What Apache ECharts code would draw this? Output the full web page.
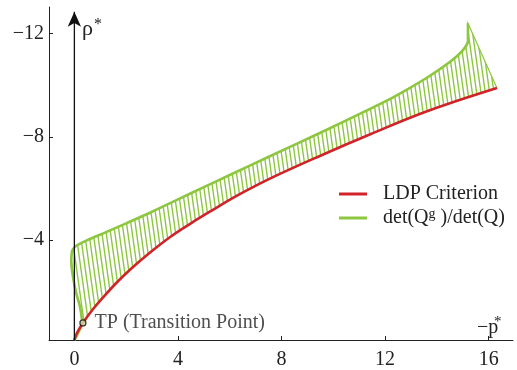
<!DOCTYPE html>
<html>
<head>
<meta charset="utf-8">
<script src="https://cdn.jsdelivr.net/npm/echarts@6/dist/echarts.min.js"></script>
<style>
html,body{margin:0;padding:0;background:#fff;}
#chart{width:517px;height:370px;}
</style>
</head>
<body>
<div id="chart"></div>
<script>
// ---- data ----
const xTicks = [0, 4, 8, 12, 16];
const yTicks = [-12, -8, -4];

// LDP Criterion (red)
const ldpX = [0.0, 0.1, 0.33, 0.7, 1.11, 1.6, 2.2, 2.9, 3.7, 4.5, 5.23, 6.3, 7.55, 9.5, 11.43, 13.62, 16.32];
const ldpY = [-0.13, -0.4, -0.79, -1.3, -1.78, -2.32, -2.9, -3.5, -4.12, -4.65, -5.1, -5.73, -6.38, -7.27, -8.1, -8.99, -9.89];

// det(Q^g)/det(Q) (green)
const detX = [0.0, 0.17, 0.30, 0.21, 0.08, -0.05, -0.12, -0.09, 0.0, 0.1, 0.5, 1.2, 2.0, 3.0, 4.0, 5.0, 6.0, 7.55, 9.48, 11.2, 12.31, 13.6, 14.5, 15.0, 15.2, 15.2];
const detY = [-0.13, -0.45, -0.8, -1.45, -1.91, -2.55, -3.19, -3.57, -3.72, -3.8, -4.0, -4.3, -4.65, -5.1, -5.58, -6.05, -6.52, -7.25, -8.15, -8.98, -9.53, -10.28, -10.9, -11.35, -11.7, -12.4];

// Transition point
const tpPoint = [0.33, -0.79];
// vertical rho* axis
const rhoAxis = [[0, -0.13], [0, -12.85]];

const RED = '#d2232a';
const GREEN = '#8dc63f';
const FONT = '"Liberation Serif", "DejaVu Serif", serif';
const GNAME = 'det(Qg)/det(Q)';
const RNAME = 'LDP Criterion';

// hatch pattern (style only)
function makeHatch() {
  const c = document.createElement('canvas');
  const sp = 13 / 3, w = 13, h = 31;
  c.width = w; c.height = h;
  const ctx = c.getContext('2d');
  ctx.strokeStyle = GREEN;
  ctx.lineWidth = 1.4;
  ctx.beginPath();
  for (let k = -2; k <= 4; k++) {
    const x0 = k * sp;
    ctx.moveTo(x0, 0);
    ctx.lineTo(x0 + sp, h);
  }
  ctx.stroke();
  return c;
}
const hatch = { image: makeHatch(), repeat: 'repeat' };

const chart = echarts.init(document.getElementById('chart'), null, { renderer: 'canvas' });

const option = {
  animation: false,
  backgroundColor: '#fff',
  grid: { left: 49, right: 4, top: 7, bottom: 26, containLabel: false },
  xAxis: {
    type: 'value', min: -0.98, max: 16.94,
    splitLine: { show: false },
    axisLine: { show: true, onZero: false, lineStyle: { color: '#222', width: 1 } },
    axisTick: { show: true, inside: true, length: 4, customValues: xTicks, lineStyle: { color: '#222' } },
    axisLabel: { customValues: xTicks, margin: 10, color: '#222', fontSize: 20, fontFamily: FONT }
  },
  yAxis: {
    type: 'value', inverse: true, min: -13.03, max: -0.13,
    splitLine: { show: false },
    axisLine: { show: true, onZero: false, lineStyle: { color: '#222', width: 1 } },
    axisTick: { show: true, inside: true, length: 4, customValues: yTicks, lineStyle: { color: '#222' } },
    axisLabel: { customValues: yTicks, margin: 5, color: '#222', fontSize: 20, fontFamily: FONT,
      formatter: v => '\u2212' + Math.abs(v) }
  },
  legend: {
    orient: 'vertical', left: 339, top: 184, itemGap: 3, padding: 0,
    itemWidth: 28, itemHeight: 3,
    data: [{ name: RNAME, icon: 'rect' }, { name: GNAME, icon: 'rect' }],
    formatter: function (name) {
      if (name === GNAME) return '{p|}{a|det(Q}{b|g}{a| )/det(Q)}';
      return '{p|}{a|' + name + '}';
    },
    textStyle: {
      color: '#222', fontFamily: FONT, fontSize: 20,
      rich: {
        p: { width: 11 },
        a: { fontSize: 20, fontFamily: FONT, color: '#222', lineHeight: 22 },
        b: { fontSize: 14, fontFamily: FONT, color: '#222', verticalAlign: 'top', lineHeight: 12 }
      }
    }
  },
  series: [
    {
      type: 'custom', name: 'hatch', clip: true, silent: true, z: 1,
      data: [[0, 0]],
      renderItem: function (params, api) {
        const pts = [];
        for (let i = 0; i < detX.length; i++) pts.push(api.coord([detX[i], detY[i]]));
        for (let i = ldpX.length - 1; i >= 0; i--) pts.push(api.coord([ldpX[i], ldpY[i]]));
        return {
          type: 'polygon',
          shape: { points: pts, smooth: 0 },
          style: { fill: hatch, stroke: GREEN, lineWidth: 1.2 }
        };
      }
    },
    {
      type: 'line', name: GNAME, z: 3,
      data: detX.map((x, i) => [x, detY[i]]),
      showSymbol: false, symbol: 'none', smooth: 0.3,
      lineStyle: { color: GREEN, width: 2.6 }, itemStyle: { color: GREEN }
    },
    {
      type: 'line', name: RNAME, z: 4,
      data: ldpX.map((x, i) => [x, ldpY[i]]),
      showSymbol: false, symbol: 'none', smooth: 0.4,
      lineStyle: { color: RED, width: 2.6 }, itemStyle: { color: RED }
    },
    {
      type: 'line', name: 'rhoAxis', z: 5, clip: false,
      data: [
        { value: rhoAxis[0], symbol: 'none' },
        { value: rhoAxis[1], symbol: 'arrow', symbolSize: [10, 15] }
      ],
      lineStyle: { color: '#111', width: 1.3 }, itemStyle: { color: '#111' }
    },
    {
      type: 'scatter', name: 'TP', z: 6,
      data: [tpPoint],
      symbol: 'circle', symbolSize: 6,
      itemStyle: { color: '#cfe6a8', borderColor: '#111', borderWidth: 1.3 },
      label: { show: true, position: 'right', distance: 8, formatter: 'TP (Transition Point)',
        color: '#222', fontSize: 20, fontFamily: FONT }
    }
  ],
  graphic: [
    { type: 'text', left: 82, top: 18, style: { text: 'ρ', font: '22px ' + FONT, fill: '#222' } },
    { type: 'text', left: 94, top: 17, style: { text: '*', font: '16px ' + FONT, fill: '#222' } },
    { type: 'text', left: 477, top: 318, style: { text: '\u2212p', font: '20px ' + FONT, fill: '#222' } },
    { type: 'text', left: 494, top: 315, style: { text: '*', font: '15px ' + FONT, fill: '#222' } }
  ]
};
chart.setOption(option);
</script>
</body>
</html>
